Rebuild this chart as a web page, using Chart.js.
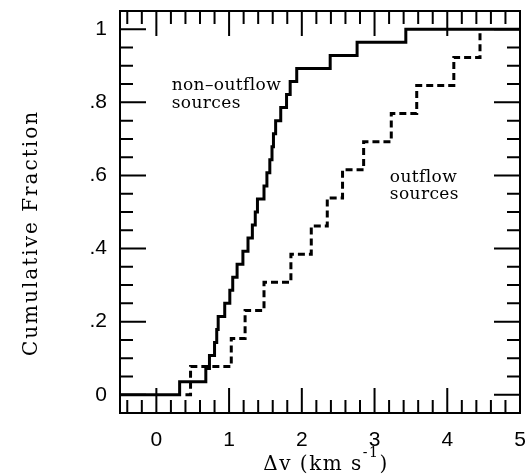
<!DOCTYPE html>
<html lang="en">

<head>
    <meta charset="UTF-8">
    <title>Cumulative Fraction</title>
    <script src="https://cdn.jsdelivr.net/npm/chart.js"></script>
    <style>
        body {
            margin: 0;
            padding: 0;
            background-color: #ffffff;
        }

        #chart {
            display: block;
        }
    </style>
</head>

<body>
    <canvas id="chart" width="525" height="475"></canvas>

    <script>
        // velocity offsets (km/s) of each source
        const nonOutflowDv = [0.32, 0.68, 0.73, 0.80, 0.83, 0.85, 0.94, 1.01, 1.05, 1.11,
            1.19, 1.26, 1.32, 1.36, 1.39, 1.48, 1.52, 1.56, 1.59, 1.61,
            1.64, 1.71, 1.79, 1.84, 1.93, 2.39, 2.76, 3.43];
        const outflowDv = [0.47, 1.03, 1.22, 1.48, 1.85, 2.13, 2.35, 2.56, 2.85, 3.23, 3.58, 4.09, 4.45];

        const xTickValues = [0, 1, 2, 3, 4, 5];
        const xTickLabels = ["0", "1", "2", "3", "4", "5"];
        const yTickValues = [0, 0.2, 0.4, 0.6, 0.8, 1];
        const yTickLabels = ["0", ".2", ".4", ".6", ".8", "1"];

        const X_MIN = -0.5, X_MAX = 5;
        const Y_MIN = -0.05, Y_MAX = 1.05;
        const SERIF = '"DejaVu Serif", serif';
        const SANS = '"Liberation Sans", Arial, sans-serif';

        // empirical cumulative distribution as step points
        function cdfPoints(dv, xStart, xEnd) {
            const n = dv.length;
            const pts = [{ x: xStart, y: 0 }];
            dv.forEach((v, i) => pts.push({ x: v, y: (i + 1) / n }));
            if (xEnd !== undefined) pts.push({ x: xEnd, y: 1 });
            return pts;
        }

        // frame, inward ticks on all four sides, labels and annotations
        const framePlugin = {
            id: "frame",
            afterDraw(chart) {
                const c = chart.ctx;
                const xs = chart.scales.x, ys = chart.scales.y;
                const a = chart.chartArea;
                c.save();
                c.strokeStyle = "#000";
                c.fillStyle = "#000";
                c.lineWidth = 2;
                c.strokeRect(a.left, a.top, a.right - a.left, a.bottom - a.top);

                c.beginPath();
                for (let k = -2; k <= 24; k++) {
                    const px = xs.getPixelForValue(k * 0.2);
                    const len = k % 5 === 0 ? 25 : 13;
                    c.moveTo(px, a.bottom); c.lineTo(px, a.bottom - len);
                    c.moveTo(px, a.top); c.lineTo(px, a.top + len);
                }
                for (let k = 0; k <= 20; k++) {
                    const py = ys.getPixelForValue(k * 0.05);
                    const len = k % 4 === 0 ? 26 : 13;
                    c.moveTo(a.left, py); c.lineTo(a.left + len, py);
                    c.moveTo(a.right, py); c.lineTo(a.right - len, py);
                }
                c.stroke();

                // tick labels
                c.font = "21px " + SANS;
                c.textBaseline = "middle";
                c.textAlign = "center";
                xTickValues.forEach((v, i) => c.fillText(xTickLabels[i], xs.getPixelForValue(v), 440));
                c.textAlign = "right";
                yTickValues.forEach((v, i) => c.fillText(yTickLabels[i], 107, ys.getPixelForValue(v)));

                // y title
                c.save();
                c.translate(32, 233);
                c.rotate(-Math.PI / 2);
                c.textAlign = "center";
                c.font = "20px " + SERIF;
                c.letterSpacing = "2px";
                c.fillText("Cumulative Fraction", 0, 0);
                c.restore();

                // x title with superscript
                c.textAlign = "left";
                c.textBaseline = "alphabetic";
                c.letterSpacing = "1.5px";
                const main = "\u0394v (km s";
                c.font = "20px " + SERIF;
                const w1 = c.measureText(main).width;
                c.font = "14px " + SERIF;
                const w2 = c.measureText("-1").width;
                c.font = "20px " + SERIF;
                const w3 = c.measureText(")").width;
                let x0 = 326 - (w1 + w2 + w3) / 2;
                c.fillText(main, x0, 470);
                c.font = "14px " + SERIF;
                c.fillText("-1", x0 + w1, 457);
                c.font = "20px " + SERIF;
                c.fillText(")", x0 + w1 + w2, 470);

                // curve annotations
                c.font = "17px " + SERIF;
                c.letterSpacing = "0.4px";
                c.textBaseline = "middle";
                c.fillText("non\u2013outflow", xs.getPixelForValue(0.21), ys.getPixelForValue(0.845));
                c.fillText("sources", xs.getPixelForValue(0.21), ys.getPixelForValue(0.796));
                c.fillText("outflow", xs.getPixelForValue(3.21), ys.getPixelForValue(0.595));
                c.fillText("sources", xs.getPixelForValue(3.21), ys.getPixelForValue(0.548));
                c.restore();
            }
        };

        const ctx = document.getElementById("chart").getContext("2d");
        new Chart(ctx, {
            type: "line",
            data: {
                datasets: [
                    {
                        label: "non-outflow sources",
                        data: cdfPoints(nonOutflowDv, X_MIN, X_MAX),
                        stepped: "before",
                        borderColor: "#000000",
                        borderWidth: 3,
                        pointRadius: 0,
                        fill: false,
                    },
                    {
                        label: "outflow sources",
                        data: cdfPoints(outflowDv, 0.40),
                        stepped: "before",
                        borderColor: "#000000",
                        borderWidth: 3,
                        borderDash: [7, 4],
                        pointRadius: 0,
                        fill: false,
                    },
                ],
            },
            options: {
                responsive: false,
                animation: false,
                devicePixelRatio: 1,
                layout: {
                    padding: { left: 120, right: 5, top: 11, bottom: 62 },
                },
                plugins: {
                    legend: { display: false },
                    tooltip: { enabled: false },
                },
                scales: {
                    x: { type: "linear", min: X_MIN, max: X_MAX, display: false },
                    y: { type: "linear", min: Y_MIN, max: Y_MAX, display: false },
                },
            },
            plugins: [framePlugin],
        });
    </script>
</body>

</html>
